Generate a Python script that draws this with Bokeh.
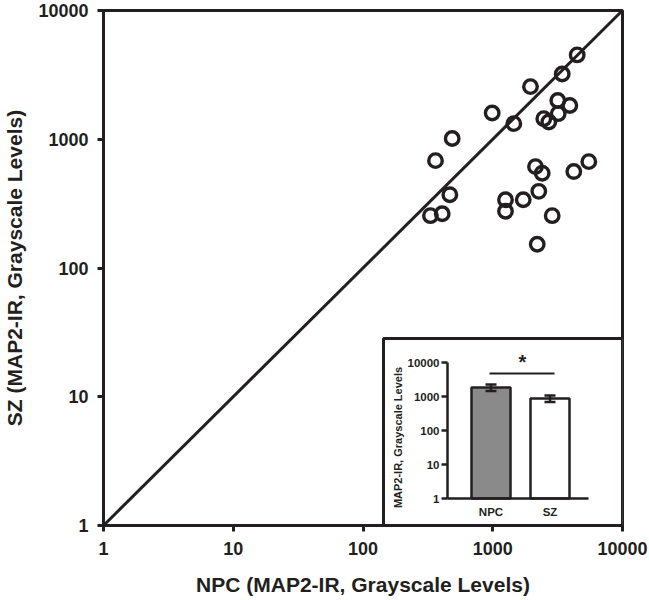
import math
from bokeh.plotting import figure
from bokeh.models import Range1d, LogScale, LinearScale, FixedTicker, PrintfTickFormatter
from bokeh.embed import file_html
from bokeh.resources import INLINE
from bokeh.core.properties import value

# ---------------- data ----------------
npc_values = [4475, 3430, 1954, 990, 1453, 3171, 3926, 3194, 2474, 2704,
              487, 362, 467, 331, 408, 2135, 2405, 5500, 4214, 1254,
              1254, 1718, 2264, 2872, 2202]
sz_values = [4520, 3213, 2564, 1600, 1322, 2000, 1830, 1580, 1445, 1363,
             1014, 682, 371, 255, 264, 613, 545, 670, 561, 339,
             276, 339, 394, 255, 153]
axis_limits = [1, 10000]
main_ticks = [1, 10, 100, 1000, 10000]

inset_groups = ["NPC", "SZ"]
inset_means = [1850, 880]
inset_sem = [400, 190]
inset_ticks = [1, 10, 100, 1000, 10000]
inset_sig = "*"

INK = "#231f20"
FONT = "Liberation Sans"

# ---------------- layout (page pixels) ----------------
PAGE = 0
FL, FR, FT, FB = 103, 622, 10, 525

p = figure(frame_width=FR - FL, frame_height=FB - FT,
           x_axis_type="log", y_axis_type="log",
           x_range=Range1d(*axis_limits), y_range=Range1d(*axis_limits),
           output_backend="svg", toolbar_location=None,
           min_border_left=FL - PAGE, min_border_right=26,
           min_border_top=FT - PAGE, min_border_bottom=72)
p.grid.visible = False
p.outline_line_color = INK
p.outline_line_width = 3
p.background_fill_color = "white"
p.border_fill_color = "white"

for ax in (p.xaxis[0], p.yaxis[0]):
    ax.ticker = FixedTicker(ticks=main_ticks, minor_ticks=[])
    ax.formatter = PrintfTickFormatter(format="%d")
    ax.axis_line_width = 3
    ax.axis_line_color = INK
    ax.major_tick_line_width = 3
    ax.major_tick_line_color = INK
    ax.major_tick_out = 6
    ax.major_tick_in = 0
    ax.minor_tick_out = 0
    ax.minor_tick_in = 0
    ax.major_label_text_font = FONT
    ax.major_label_text_font_style = "bold"
    ax.major_label_text_font_size = "18px"
    ax.major_label_text_color = INK
    ax.axis_label_text_font = FONT
    ax.axis_label_text_font_style = "bold"
    ax.axis_label_text_font_size = "21px"
    ax.axis_label_text_color = INK
p.xaxis.axis_label = "NPC (MAP2-IR, Grayscale Levels)"
p.yaxis.axis_label = "SZ (MAP2-IR, Grayscale Levels)"
p.xaxis.major_label_standoff = 10
p.yaxis.major_label_standoff = 9
p.xaxis.axis_label_standoff = 15
p.yaxis.axis_label_standoff = 9

# identity line
p.line(axis_limits, axis_limits, line_color=INK, line_width=3)
# scatter
p.scatter(npc_values, sz_values, size=13.5, fill_color=None,
          line_color=INK, line_width=3.4)

# ---------------- inset (drawn in extra ranges) ----------------
IA_X, IA_Y1, IA_Y4, IA_XEND = 447, 498, 362, 588
DEC = (IA_Y1 - IA_Y4) / 4.0
C1, CSTEP, BARW = 490.5, 59.0, 39.0


def ix(px):
    return 1 + (px - C1) / CSTEP


def iy(py):
    return 10 ** ((IA_Y1 - py) / DEC)


p.extra_x_ranges = {"ix": Range1d(ix(FL), ix(FR))}
p.extra_y_ranges = {"iy": Range1d(iy(FB), iy(FT))}
p.extra_x_scales = {"ix": LinearScale()}
p.extra_y_scales = {"iy": LogScale()}
kw = dict(x_range_name="ix", y_range_name="iy")

# inset box
p.quad(left=[ix(383)], right=[ix(FR)], bottom=[iy(FB)], top=[iy(338)],
       fill_color="white", line_color=INK, line_width=3, **kw)

xpos = [i + 1 for i in range(len(inset_groups))]
# bars
p.vbar(x=xpos, width=BARW / CSTEP, bottom=1, top=inset_means,
       fill_color=["#8a8a8a", "white"], line_color=INK, line_width=2.5, **kw)
# error bars
lo = [m - s for m, s in zip(inset_means, inset_sem)]
hi = [m + s for m, s in zip(inset_means, inset_sem)]
capw = 11 / CSTEP / 2
p.segment(x0=xpos, y0=lo, x1=xpos, y1=hi, line_color=INK, line_width=2.5, **kw)
p.segment(x0=[x - capw for x in xpos], y0=hi, x1=[x + capw for x in xpos], y1=hi,
          line_color=INK, line_width=2.5, **kw)
p.segment(x0=[x - capw for x in xpos], y0=lo, x1=[x + capw for x in xpos], y1=lo,
          line_color=INK, line_width=2.5, **kw)

# inset axes
p.segment(x0=[ix(IA_X)], y0=[inset_ticks[0]], x1=[ix(IA_X)], y1=[inset_ticks[-1]],
          line_color=INK, line_width=2.5, **kw)
p.segment(x0=[ix(IA_X)], y0=[inset_ticks[0]], x1=[ix(IA_XEND)], y1=[inset_ticks[0]],
          line_color=INK, line_width=2.5, **kw)
p.segment(x0=[ix(IA_X - 6)] * len(inset_ticks), y0=inset_ticks,
          x1=[ix(IA_X)] * len(inset_ticks), y1=inset_ticks,
          line_color=INK, line_width=2.5, **kw)
p.text(x=[ix(IA_X - 8)] * len(inset_ticks), y=inset_ticks,
       text=[str(t) for t in inset_ticks], text_align="right", text_baseline="middle",
       text_font=value(FONT), text_font_style="bold", text_font_size="11.5px",
       text_color=INK, **kw)
p.text(x=xpos, y=[iy(505)] * len(xpos), text=inset_groups,
       text_align="center", text_baseline="top",
       text_font=value(FONT), text_font_style="bold", text_font_size="11.5px",
       text_color=INK, **kw)
p.text(x=[ix(397)], y=[iy(437)], text=["MAP2-IR, Grayscale Levels"], angle=math.pi / 2,
       text_align="center", text_baseline="middle",
       text_font=value(FONT), text_font_style="bold", text_font_size="11px",
       text_color=INK, **kw)
# significance
p.segment(x0=[ix(489)], y0=[iy(373)], x1=[ix(554)], y1=[iy(373)],
          line_color=INK, line_width=2, **kw)
p.text(x=[ix(522)], y=[iy(372)], text=[inset_sig], text_align="center",
       text_baseline="bottom", text_font=value(FONT), text_font_style="bold",
       text_font_size="20px", text_color=INK, **kw)

open("out.html", "w").write(file_html(p, INLINE))
